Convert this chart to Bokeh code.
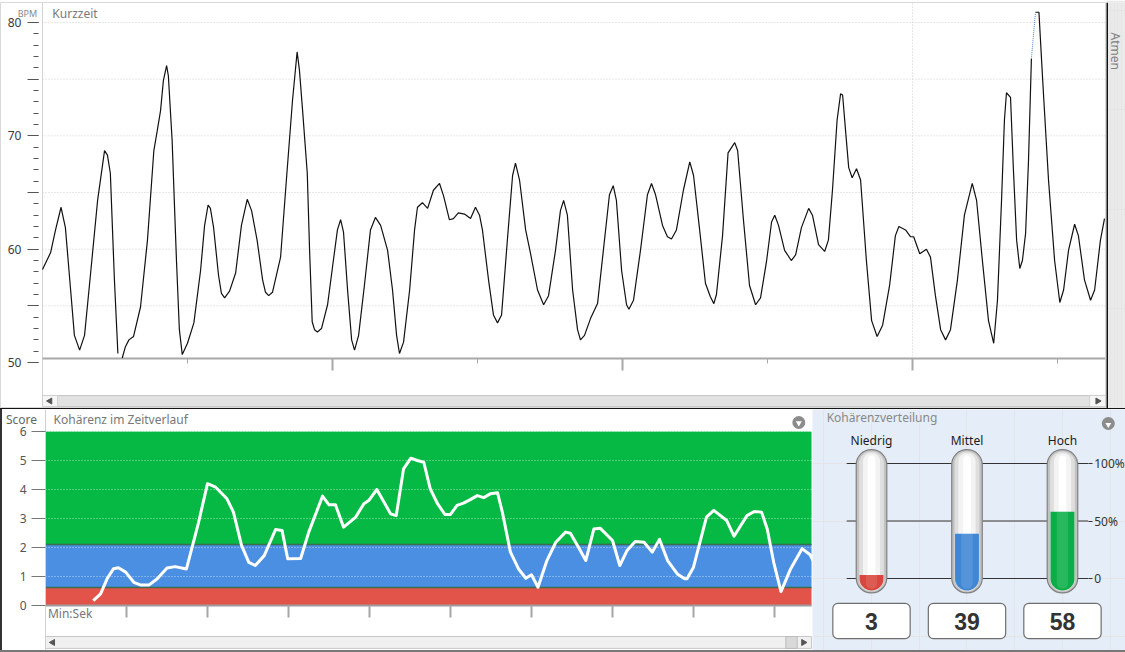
import math
from bokeh.plotting import figure
from bokeh.layouts import column, row
from bokeh.models import Range1d, FixedTicker, LinearAxis, Label, Span, ColumnDataSource, Div
from bokeh.core.properties import value
from bokeh.embed import file_html
from bokeh.resources import INLINE

nan = float("nan")
FONT = "Noto Sans"

# ---------------- data: heart rate (Kurzzeit) ----------------
hr_time = [
    0.00, 0.28, 0.45, 0.64, 0.79, 0.97, 1.10, 1.28, 1.45, 1.66,
    1.90, 2.14, 2.24, 2.34, 2.48, 2.60, nan, 2.75, 2.86, 2.98,
    3.14, 3.38, 3.62, 3.84, 3.96, 4.07, 4.17, 4.28, 4.34, 4.47,
    4.62, 4.72, 4.82, 5.00, 5.22, 5.45, 5.59, 5.71, 5.79, 5.90,
    6.07, 6.17, 6.28, 6.45, 6.66, 6.86, 7.06, 7.21, 7.40, 7.59,
    7.69, 7.80, 7.93, 8.21, 8.41, 8.62, 8.78, 8.86, 8.97, 9.13,
    9.21, 9.30, 9.38, 9.48, 9.62, 9.83, 10.03, 10.17, 10.28, 10.38,
    10.52, 10.66, 10.76, 10.90, 11.10, 11.31, 11.48, 11.66, 11.90, 12.07,
    12.21, 12.31, 12.45, 12.66, 12.83, 12.93, 13.10, 13.28, 13.48, 13.69,
    13.83, 14.03, 14.17, 14.34, 14.55, 14.76, 14.93, 15.07, 15.17, 15.38,
    15.55, 15.69, 15.83, 16.03, 16.21, 16.31, 16.45, 16.66, 16.83, 17.07,
    17.28, 17.45, 17.69, 17.86, 17.97, 18.10, 18.28, 18.45, 18.55, 18.69,
    18.90, 19.14, 19.34, 19.55, 19.68, 19.79, 19.97, 20.14, 20.22, 20.38,
    20.62, 20.86, 21.00, 21.14, 21.38, 21.55, 21.69, 21.86, 22.10, 22.32,
    22.45, 22.66, 22.86, 23.03, 23.15, 23.24, 23.45, 23.64, 23.87, 23.97,
    24.17, 24.38, 24.59, 24.76, 24.97, 25.14, 25.25, 25.38, 25.59, 25.82,
    25.97, 26.17, 26.42, 26.55, 26.76, 26.97, 27.10, 27.24, 27.40, 27.52,
    27.59, 27.72, 27.80, 27.92, 28.07, 28.21, 28.41, 28.59, 28.78, 28.97,
    29.21, 29.41, 29.53, 29.76, 29.93, 30.04, 30.25, 30.48, 30.62, 30.79,
    30.97, 31.14, 31.31, 31.55, 31.79, 32.06, 32.21, 32.41, 32.62, 32.80,
    32.93, 33.07, 33.17, 33.24, 33.38, 33.48, 33.59, 33.70, 33.79, 33.90,
    34.00, 34.10, nan, 34.24, 34.36, 34.45, 34.53, 34.69, 34.90, 35.08,
    35.21, 35.38, 35.59, 35.72, 35.93, 36.14, 36.28, 36.48, 36.62,
]
hr_bpm = [
    58.2, 59.7, 61.7, 63.7, 61.9, 56.4, 52.4, 51.1, 52.4, 57.9,
    64.3, 68.7, 68.3, 66.7, 57.3, 50.8, nan, 50.4, 51.4, 52.0,
    52.3, 54.9, 60.8, 68.7, 70.5, 72.2, 74.9, 76.2, 75.3, 69.6,
    59.0, 52.9, 50.7, 51.7, 53.5, 58.1, 62.1, 63.9, 63.6, 61.9,
    57.7, 56.1, 55.7, 56.3, 57.9, 62.1, 64.4, 63.4, 60.8, 57.3,
    56.2, 55.9, 56.2, 59.3, 66.1, 73.1, 77.4, 75.8, 72.2, 66.7,
    59.9, 53.6, 52.9, 52.7, 53.0, 55.1, 59.0, 61.7, 62.6, 61.5,
    56.4, 52.0, 51.1, 52.4, 56.8, 61.7, 62.8, 62.1, 59.9, 56.4,
    52.4, 50.8, 51.8, 56.4, 61.7, 63.7, 64.1, 63.6, 65.2, 65.8,
    64.7, 62.6, 62.7, 63.2, 63.1, 62.7, 63.7, 63.0, 61.7, 57.3,
    54.2, 53.5, 54.2, 60.8, 66.5, 67.6, 66.1, 61.7, 59.6, 56.4,
    55.1, 55.9, 59.9, 63.4, 64.3, 63.0, 56.4, 52.9, 52.0, 52.4,
    53.9, 55.2, 59.9, 64.8, 65.6, 64.3, 58.1, 55.1, 54.7, 55.5,
    59.9, 64.8, 65.8, 64.8, 62.1, 61.1, 60.9, 61.7, 65.2, 67.7,
    66.5, 61.7, 57.0, 55.8, 55.2, 56.0, 61.2, 68.5, 69.4, 68.7,
    62.6, 56.8, 55.1, 55.7, 59.0, 62.4, 63.0, 62.1, 59.9, 59.0,
    59.5, 61.9, 63.6, 63.0, 60.4, 59.8, 60.8, 65.2, 71.4, 73.7,
    73.6, 69.6, 67.2, 66.3, 67.1, 66.1, 59.0, 53.7, 52.3, 53.3,
    56.8, 61.2, 62.0, 61.7, 61.1, 61.1, 59.6, 60.0, 59.3, 55.9,
    52.9, 52.0, 52.9, 57.3, 63.0, 65.8, 64.3, 59.0, 53.7, 51.7,
    55.5, 64.3, 71.4, 73.8, 73.4, 67.0, 60.8, 58.3, 59.0, 61.4,
    67.8, 76.8, nan, 80.9, 80.9, 76.7, 73.1, 66.1, 59.0, 55.3,
    56.4, 59.9, 62.2, 61.2, 57.3, 55.5, 56.4, 60.8, 62.7,
]
hr_gap_time = [34.10, 34.24]
hr_gap_bpm = [76.8, 80.9]

bpm_ticks = [50, 55, 60, 65, 70, 75, 80]
bpm_tick_labels = ["50", "", "60", "", "70", "", "80"]
bpm_minor = list(range(50, 81))
bpm_grid = [55, 60, 65, 70, 75, 80]
hr_time_ticks = [10, 20, 30]
hr_time_minor = [5, 15, 25, 35]
hr_time_grid = [30]

# ---------------- data: coherence over time ----------------
coh_time = [
    0.59, 0.68, 0.76, 0.84, 0.90, 0.99, 1.09, 1.17, 1.28, 1.38,
    1.50, 1.60, 1.74, 1.89, 2.00, 2.10, 2.24, 2.32, 2.42, 2.51,
    2.59, 2.70, 2.84, 2.92, 2.99, 3.15, 3.25, 3.42, 3.50, 3.58,
    3.68, 3.83, 3.93, 3.99, 4.09, 4.18, 4.26, 4.33, 4.42, 4.51,
    4.59, 4.67, 4.75, 4.84, 4.93, 5.00, 5.08, 5.16, 5.25, 5.33,
    5.41, 5.49, 5.58, 5.64, 5.74, 5.84, 5.93, 6.00, 6.08, 6.19,
    6.30, 6.42, 6.48, 6.58, 6.67, 6.77, 6.85, 7.00, 7.09, 7.18,
    7.28, 7.39, 7.49, 7.58, 7.68, 7.80, 7.89, 7.92, 8.00, 8.16,
    8.25, 8.41, 8.50, 8.66, 8.75, 8.84, 8.91, 8.99, 9.08, 9.20,
    9.34, 9.44, 9.50,
]
coh_score = [
    0.17, 0.40, 0.92, 1.27, 1.30, 1.15, 0.80, 0.71, 0.71, 0.92,
    1.29, 1.34, 1.26, 2.87, 4.20, 4.08, 3.68, 3.22, 2.07, 1.49,
    1.38, 1.72, 2.62, 2.59, 1.61, 1.62, 2.53, 3.77, 3.47, 3.47,
    2.70, 3.05, 3.51, 3.62, 4.00, 3.56, 3.16, 3.10, 4.71, 5.08,
    5.00, 4.94, 4.02, 3.51, 3.14, 3.14, 3.45, 3.53, 3.66, 3.79,
    3.72, 3.85, 3.89, 3.22, 1.84, 1.26, 0.94, 1.06, 0.63, 1.55,
    2.18, 2.53, 2.49, 2.01, 1.55, 2.64, 2.66, 2.24, 1.38, 1.90,
    2.21, 2.18, 1.84, 2.28, 1.55, 1.09, 0.92, 0.92, 1.32, 3.05,
    3.28, 2.93, 2.39, 3.10, 3.24, 3.22, 2.64, 1.49, 0.48, 1.27,
    1.96, 1.75, 1.40,
]
score_ticks = [0, 1, 2, 3, 4, 5, 6]
score_grid = [1, 2, 3, 4, 5, 6]
coh_time_ticks = [1, 2, 3, 4, 5, 6, 7, 8, 9]

# ---------------- data: coherence levels / distribution ----------------
level_names = ["Niedrig", "Mittel", "Hoch"]
level_low = [0.0, 0.62, 2.1]
level_high = [0.62, 2.1, 6.0]
level_colors = ["#e2544a", "#4a8fe2", "#05b944"]
level_fill_colors = ["#d8463d", "#3f86d4", "#0aad46"]
level_percent = [3, 39, 58]
pct_ticks = [0, 50, 100]
pct_tick_labels = ["0", "50%", "100%"]


def hide_text(ticks):
    return {t: "" for t in ticks}


# =============== top figure: heart rate =================
HR_T0, HR_T1 = 0.0, 36.655          # span of the recording
HR_XL = -1.448                       # room for the BPM axis labels
HR_Y0, HR_Y1 = 45.947, 81.762
HR_AXIS = 50.35
SB1_BOT, SB1_TOP = 46.12, 47.09
p1 = figure(width=1106, height=408, x_range=Range1d(HR_XL, HR_T1), y_range=Range1d(HR_Y0, HR_Y1),
            output_backend="svg", toolbar_location=None, x_axis_location=None,
            min_border_left=0, min_border_right=1, min_border_top=2, min_border_bottom=0,
            outline_line_color="#d9d9d9", background_fill_color="white", border_fill_color="white")
p1.grid.visible = False

ya = p1.yaxis[0]
ya.fixed_location = HR_T0 - 0.14     # ticks stand a little off the plot edge
ya.ticker = FixedTicker(ticks=bpm_ticks, minor_ticks=bpm_minor)
ya.major_label_overrides = dict(zip(bpm_ticks, bpm_tick_labels))
ya.axis_line_color = None
ya.major_tick_line_color = "#555555"
ya.minor_tick_line_color = "#555555"
ya.major_tick_out = 11
ya.major_tick_in = 0
ya.minor_tick_out = 5
ya.minor_tick_in = 0
ya.major_label_standoff = 6
ya.major_label_text_font = FONT
ya.major_label_text_font_size = "12px"
ya.major_label_text_color = "#3a3a3a"
p1.segment(x0=[HR_T0], x1=[HR_T0], y0=[SB1_TOP], y1=[HR_Y1], line_color="#d4d4d4", line_width=1)

# dotted grid
p1.segment(x0=HR_T0, x1=HR_T1, y0=bpm_grid, y1=bpm_grid, line_color="#cfcfcf", line_dash="1 2")
p1.segment(x0=hr_time_grid, x1=hr_time_grid, y0=HR_AXIS, y1=HR_Y1, line_color="#cfcfcf", line_dash="1 2")

xa = LinearAxis(fixed_location=HR_AXIS,
                ticker=FixedTicker(ticks=hr_time_ticks, minor_ticks=hr_time_minor),
                major_label_overrides=hide_text(hr_time_ticks),
                axis_line_color=None,
                major_tick_line_color="#a8a8a8", major_tick_line_width=2,
                major_tick_out=12, major_tick_in=0,
                minor_tick_line_color="#a8a8a8", minor_tick_out=5, minor_tick_in=0)
p1.add_layout(xa, "below")
p1.segment(x0=[HR_T0], x1=[HR_T1], y0=[HR_AXIS], y1=[HR_AXIS], line_color="#a8a8a8", line_width=2)

p1.line(x="t", y="bpm", source=ColumnDataSource(dict(t=hr_time, bpm=hr_bpm)),
        line_color="#111111", line_width=1.2)
p1.line(hr_gap_time, hr_gap_bpm, line_color="#4a7fc4", line_dash="1 1", line_width=1)

# scrollbar
p1.quad(left=HR_T0, right=HR_T1, bottom=SB1_BOT, top=SB1_TOP, fill_color="#e2e2e2", line_color="#c6c6c6")
p1.quad(left=[HR_T0, HR_T1 - 0.55], right=[HR_T0 + 0.52, HR_T1], bottom=SB1_BOT, top=SB1_TOP,
        fill_color="#f6f6f6", line_color="#d0d0d0")
p1.scatter(x=[HR_T0 + 0.26], y=[(SB1_BOT + SB1_TOP) / 2], marker="triangle", angle=math.pi / 2,
           size=6, color="#555555")
p1.scatter(x=[HR_T1 - 0.27], y=[(SB1_BOT + SB1_TOP) / 2], marker="triangle", angle=-math.pi / 2,
           size=6, color="#555555")

p1.add_layout(Label(x=0.34, y=80.8, text="Kurzzeit", text_font=FONT, text_font_size="12px",
                    text_color="#7a7a7a", text_baseline="middle"))
p1.add_layout(Label(x=-0.52, y=80.75, text="BPM", text_font=FONT, text_font_size="9px",
                    text_color="#8a8a8a", text_baseline="middle", text_align="center"))

# =============== side strip: Atmen =================
pa = figure(width=19, height=408, x_range=Range1d(0, 1), y_range=Range1d(0, 408),
            output_backend="svg", toolbar_location=None, x_axis_location=None, y_axis_location=None,
            min_border=0, outline_line_color=None, background_fill_color="#eaeaea",
            border_fill_color="#eaeaea")
pa.add_layout(Span(location=0, dimension="height", line_color="#111111", line_width=3))
pa.add_layout(Label(x=0.45, y=359, text="Atmen", angle=-math.pi / 2, text_font=FONT,
                    text_font_size="12px", text_color="#808080", text_align="center",
                    text_baseline="middle"))

# =============== bottom left: coherence over time =================
CT0, CT1 = 0.0, 9.457
CT_XL, CT_XR = -0.531, 9.469
CS0, CS1 = -1.552, 6.759
p2 = figure(width=810, height=241, x_range=Range1d(CT_XL, CT_XR), y_range=Range1d(CS0, CS1),
            output_backend="svg", toolbar_location=None, x_axis_location=None,
            min_border=0, outline_line_color=None,
            background_fill_color="white", border_fill_color="white")
p2.grid.visible = False

p2.quad(left=CT0, right=CT1, bottom=level_low, top=level_high, fill_color=level_colors, line_color=None)
p2.segment(x0=CT0, x1=CT1, y0=level_low[1:], y1=level_low[1:], line_color="#3b6e4f", line_width=1.5)
p2.segment(x0=CT0, x1=CT1, y0=score_grid, y1=score_grid, line_color="white", line_alpha=0.6,
           line_dash="1 2")

yb = p2.yaxis[0]
yb.fixed_location = CT0
yb.ticker = FixedTicker(ticks=score_ticks)
yb.axis_line_color = "#d0d0d0"
yb.major_tick_line_color = "#777777"
yb.major_tick_out = 14
yb.major_tick_in = 0
yb.minor_tick_line_color = None
yb.major_label_standoff = 5
yb.major_label_text_font = FONT
yb.major_label_text_font_size = "12px"
yb.major_label_text_color = "#555555"

xb = LinearAxis(fixed_location=0, ticker=FixedTicker(ticks=coh_time_ticks),
                major_label_overrides=hide_text(coh_time_ticks),
                axis_line_color=None,
                major_tick_line_color="#a6a6a6", major_tick_line_width=2,
                major_tick_out=12, major_tick_in=0, minor_tick_line_color=None)
p2.add_layout(xb, "below")
p2.segment(x0=[CT0], x1=[CT1], y0=[0], y1=[0], line_color="#9c9c9c", line_width=2)

p2.line(coh_time, coh_score, line_color="white", line_width=3, line_join="round")

SB2_BOT, SB2_TOP = -1.48, -1.07
p2.quad(left=CT0, right=CT1, bottom=SB2_BOT, top=SB2_TOP, fill_color="#f0f0f0", line_color="#c8c8c8")
p2.quad(left=[9.14], right=[9.28], bottom=SB2_BOT, top=SB2_TOP, fill_color="#d9d9d9", line_color="#bbbbbb")
p2.scatter(x=[CT0 + 0.09], y=[(SB2_BOT + SB2_TOP) / 2], marker="triangle", angle=math.pi / 2,
           size=6, color="#555555")
p2.scatter(x=[CT1 - 0.1], y=[(SB2_BOT + SB2_TOP) / 2], marker="triangle", angle=-math.pi / 2,
           size=6, color="#555555")

p2.add_layout(Label(x=-0.296, y=6.41, text="Score", text_font=FONT, text_font_size="12px",
                    text_color="#666666", text_baseline="middle", text_align="center"))
p2.add_layout(Label(x=0.10, y=6.41, text="Kohärenz im Zeitverlauf", text_font=FONT,
                    text_font_size="12px", text_color="#777777", text_baseline="middle"))
p2.add_layout(Label(x=0.03, y=-0.28, text="Min:Sek", text_font=FONT, text_font_size="12px",
                    text_color="#777777", text_baseline="middle"))
p2.scatter(x=[9.30], y=[6.31], marker="circle", size=13, fill_color="#8c8c8c", line_color=None)
p2.scatter(x=[9.30], y=[6.29], marker="inverted_triangle", size=6, fill_color="white", line_color=None)

# =============== bottom right: coherence distribution =================
idx = list(range(len(level_names)))
p3 = figure(width=313, height=241, x_range=Range1d(-0.618, 2.66), y_range=Range1d(-62.6, 146.96),
            output_backend="svg", toolbar_location=None, x_axis_location=None, y_axis_location=None,
            min_border=0, outline_line_color=None, background_fill_color="#e5eef8",
            border_fill_color="#e5eef8")

p3.segment(x0=-0.26, x1=2.27, y0=pct_ticks, y1=pct_ticks, line_color="#333333", line_width=1)
ra = LinearAxis(fixed_location=2.27, ticker=FixedTicker(ticks=pct_ticks),
                major_label_overrides=dict(zip(pct_ticks, pct_tick_labels)),
                axis_line_color=None, major_tick_out=4, major_tick_in=0,
                major_tick_line_color="#333333", minor_tick_line_color=None,
                major_label_standoff=2, major_label_text_font=FONT,
                major_label_text_font_size="12px", major_label_text_color="#333333")
p3.add_layout(ra, "right")

# tubes
p3.vbar(x=idx, width=0.32, top=112.0, bottom=-12.5, border_radius=15,
        fill_color="#c2c2c2", line_color="#808080", line_width=1.2)
p3.vbar(x=idx, width=0.26, top=110.5, bottom=-11.0, border_radius=12,
        fill_color="#dedede", line_color=None)
p3.vbar(x=idx, width=0.18, top=109.0, bottom=-9.5, border_radius=8,
        fill_color="#f3f3f3", line_color=None)
p3.vbar(x=idx, width=0.08, top=107.0, bottom=-8.0, border_radius=4,
        fill_color="#ffffff", line_color=None)
# fill levels
p3.vbar(x=idx, width=0.25, top=level_percent, bottom=-10.5, border_radius=(0, 0, 12, 12),
        fill_color=level_fill_colors, line_color=None)
p3.vbar(x=idx, width=0.12, top=level_percent, bottom=-9.0, border_radius=(0, 0, 6, 6),
        fill_color="white", fill_alpha=0.12, line_color=None)

p3.text(x=idx, y=120, text=level_names, text_font=value(FONT), text_font_size="12px",
        text_color="#1a1a1a", text_align="center", text_baseline="middle")

# value boxes
p3.vbar(x=idx, width=0.81, top=-21.7, bottom=-52.2, border_radius=5,
        fill_color="white", line_color="#6e6e6e", line_width=1.2)
p3.text(x=idx, y=-37.5, text=[str(v) for v in level_percent], text_font=value("Liberation Sans"),
        text_font_style="bold", text_font_size="23px", text_color="#333333",
        text_align="center", text_baseline="middle")

p3.add_layout(Label(x=-0.47, y=140, text="Kohärenzverteilung", text_font=FONT,
                    text_font_size="12px", text_color="#888888", text_baseline="middle"))
p3.scatter(x=[2.48], y=[134.8], marker="circle", size=13, fill_color="#8c8c8c", line_color=None)
p3.scatter(x=[2.48], y=[133.8], marker="inverted_triangle", size=6, fill_color="white", line_color=None)

# =============== layout =================
sep = Div(text="", width=1125, height=1, margin=0, styles={"background-color": "#151515"})
left_edge = Div(text="", width=2, height=241, margin=0, styles={"background-color": "#333333"})
bottom_edge = Div(text="", width=1125, height=2, margin=0, styles={"background-color": "#777777"})

layout = column(
    row(p1, pa, spacing=0),
    sep,
    row(left_edge, p2, p3, spacing=0),
    bottom_edge,
    spacing=0,
)

open("out.html", "w").write(file_html(layout, INLINE, "Kohärenz"))
